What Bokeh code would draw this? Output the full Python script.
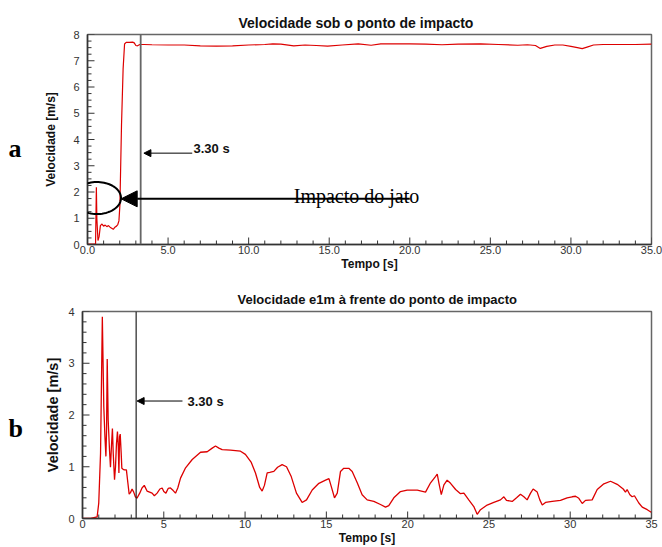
import numpy as np
from bokeh.plotting import figure
from bokeh.layouts import column, row
from bokeh.models import (Span, Arrow, NormalHead, Label, PrintfTickFormatter,
                          FixedTicker, PolyAnnotation, Range1d, Title)
from bokeh.embed import file_html
from bokeh.resources import INLINE

# ---------------- data ----------------
# (a) velocity under the impact point
t_top = [0.0, 0.5, 0.55, 0.58, 0.65, 0.72, 0.8, 0.9, 1.0, 1.1, 1.2, 1.3, 1.4, 1.5,
         1.6, 1.7, 1.8, 1.88, 1.95, 2.01, 2.11, 2.21, 2.3, 2.4, 2.6, 2.8, 2.9, 3.0,
         3.1, 3.25, 3.5, 4.0, 5.0, 6.0, 7.0, 8.0, 9.0, 10.0, 11.0, 11.5, 12.0, 12.8,
         13.5, 14.2, 14.9, 15.8, 16.8, 17.6, 18.2, 19.0, 20.0, 21.0, 22.0, 23.0,
         24.4, 25.5, 26.7, 27.3, 27.8, 28.1, 28.5, 29.0, 29.5, 30.0, 30.4, 30.7,
         31.0, 31.4, 32.0, 33.0, 34.0, 35.0]
v_top = [0.02, 0.02, 2.18, 1.0, 0.15, 0.3, 0.72, 0.78, 0.7, 0.74, 0.68, 0.72, 0.66, 0.62,
         0.58, 0.66, 0.7, 0.76, 0.9, 1.49, 4.53, 6.69, 7.64, 7.7, 7.7, 7.71, 7.68, 7.58,
         7.57, 7.62, 7.62, 7.61, 7.6, 7.6, 7.57, 7.56, 7.57, 7.6, 7.62, 7.64, 7.63, 7.57,
         7.6, 7.58, 7.56, 7.6, 7.64, 7.59, 7.64, 7.64, 7.64, 7.63, 7.61, 7.63,
         7.64, 7.62, 7.59, 7.61, 7.58, 7.47, 7.55, 7.6, 7.6, 7.55, 7.5, 7.46,
         7.52, 7.6, 7.62, 7.62, 7.62, 7.63]

# (b) velocity 1 m ahead of the impact point
t_bot = [0.0, 0.5, 0.9, 1.0, 1.11, 1.22, 1.31, 1.38, 1.44, 1.48, 1.52, 1.58, 1.66, 1.72,
         1.78, 1.84, 1.89, 1.97, 2.03, 2.09, 2.15, 2.2, 2.24, 2.28, 2.32, 2.38, 2.42,
         2.5, 2.58, 2.7, 2.79, 2.87, 2.95, 3.05, 3.15, 3.25, 3.35, 3.52, 3.66, 3.8,
         3.97, 4.13, 4.28, 4.42, 4.59, 4.76, 4.9, 5.0, 5.13, 5.27, 5.41, 5.58, 5.72,
         5.86, 6.03, 6.34, 6.75, 7.26, 7.67, 7.98, 8.18, 8.39, 8.59, 9.1, 9.72, 10.02,
         10.37, 10.64, 10.9, 11.05, 11.19, 11.36, 11.52, 11.77, 12.0, 12.28, 12.55,
         12.84, 13.16, 13.51, 13.78, 14.13, 14.54, 14.95, 15.16, 15.3, 15.5, 15.67,
         15.87, 16.07, 16.38, 16.59, 16.9, 17.2, 17.51, 17.92, 18.33, 18.64, 18.84,
         19.15, 19.56, 19.97, 20.59, 21.1, 21.41, 21.71, 21.82, 21.92, 22.07, 22.23,
         22.43, 22.64, 22.95, 23.25, 23.46, 23.76, 24.07, 24.28, 24.48, 24.89, 25.3,
         25.71, 25.92, 26.08, 26.43, 26.7, 26.94, 27.15, 27.35, 27.56, 27.72, 27.97,
         28.13, 28.28, 28.48, 28.89, 29.4, 29.81, 30.12, 30.33, 30.53, 30.74, 30.94,
         31.35, 31.66, 32.07, 32.48, 32.89, 33.26, 33.4, 33.5, 33.67, 33.81, 33.95,
         34.22, 34.43, 34.74, 34.98]
v_bot = [0.0, 0.0, 0.03, 0.3, 1.26, 3.9, 2.16, 1.58, 1.2, 1.71, 3.08, 1.9, 1.33, 0.99,
         1.39, 1.74, 1.26, 0.75, 1.0, 1.45, 1.68, 1.39, 0.88, 1.58, 1.63, 1.26, 0.97,
         0.95, 0.94, 0.94, 0.69, 0.47, 0.5, 0.57, 0.51, 0.42, 0.39, 0.49, 0.59, 0.64,
         0.53, 0.51, 0.49, 0.44, 0.49, 0.57, 0.59, 0.52, 0.49, 0.58, 0.59, 0.54, 0.49,
         0.59, 0.78, 0.98, 1.14, 1.28, 1.29, 1.36, 1.4, 1.36, 1.33, 1.32, 1.3, 1.24,
         1.09, 0.88, 0.6, 0.53, 0.64, 0.88, 0.89, 0.91, 0.99, 1.04, 1.0,
         0.81, 0.49, 0.31, 0.36, 0.55, 0.68, 0.74, 0.77, 0.62, 0.4, 0.49,
         0.91, 0.97, 0.97, 0.91, 0.69, 0.46, 0.36, 0.33, 0.27, 0.22, 0.25,
         0.4, 0.52, 0.55, 0.55, 0.51, 0.69, 0.81, 0.86, 0.69, 0.46, 0.65,
         0.74, 0.68, 0.56, 0.48, 0.49, 0.36, 0.23, 0.08, 0.17, 0.26, 0.31,
         0.36, 0.42, 0.35, 0.33, 0.4, 0.47, 0.42, 0.36, 0.49, 0.57, 0.51,
         0.36, 0.26, 0.31, 0.33, 0.35, 0.4, 0.42, 0.43, 0.39, 0.29, 0.35,
         0.36, 0.56, 0.67, 0.72, 0.66, 0.57, 0.51, 0.56, 0.46, 0.42, 0.44,
         0.3, 0.22, 0.17, 0.12]

x_major = [0, 5, 10, 15, 20, 25, 30, 35]
x_minor = [v for v in range(0, 36) if v % 5 != 0]
y_major_top = [0, 1, 2, 3, 4, 5, 6, 7, 8]
y_minor_top = [v / 4 for v in range(0, 33) if v % 4 != 0]
y_major_bot = [0, 1, 2, 3, 4]
y_minor_bot = [v / 5 for v in range(0, 21) if v % 5 != 0]

title_top = "Velocidade sob o ponto de impacto"
title_bot = "Velocidade e1m à frente do ponto de impacto"
marker_time = 3.30

FONT = "Liberation Sans"
SERIF = "Liberation Serif"
RED = "#dd0000"
TICK = "#333333"


def style(p, y_major, y_minor, xfmt, ylabel_size, ylab_standoff):
    p.xgrid.visible = False
    p.ygrid.visible = False
    p.outline_line_color = "#666666"
    p.outline_line_width = 1.5
    p.xaxis.ticker = FixedTicker(ticks=x_major)
    p.yaxis.ticker = FixedTicker(ticks=y_major)
    if xfmt:
        p.xaxis.formatter = PrintfTickFormatter(format=xfmt)
    for ax in (p.xaxis[0], p.yaxis[0]):
        ax.major_tick_in = 0
        ax.major_tick_out = 0
        ax.minor_tick_in = 0
        ax.minor_tick_out = 0
        ax.axis_line_color = TICK
        ax.axis_line_width = 1.5
        ax.major_label_text_font = FONT
        ax.major_label_text_font_size = "11px"
        ax.major_label_text_color = TICK
        ax.axis_label_text_font = FONT
        ax.axis_label_text_font_style = "bold"
        ax.axis_label_text_color = "#111111"
    p.xaxis.axis_label = "Tempo [s]"
    p.xaxis.axis_label_text_font_size = "12px"
    p.xaxis.major_label_standoff = 1
    p.xaxis.axis_label_standoff = 0
    p.yaxis.axis_label = "Velocidade [m/s]"
    p.yaxis.axis_label_text_font_size = ylabel_size
    p.yaxis.major_label_standoff = 8
    p.yaxis.axis_label_standoff = ylab_standoff
    # inward tick marks (half of each dash is clipped away by the frame)
    p.scatter(x_major, [0] * len(x_major), marker="dash", size=14, angle=np.pi / 2,
              line_color=TICK, line_width=1)
    p.scatter(x_minor, [0] * len(x_minor), marker="dash", size=8, angle=np.pi / 2,
              line_color=TICK, line_width=1)
    p.scatter([0] * len(y_major), y_major, marker="dash", size=14,
              line_color=TICK, line_width=1)
    p.scatter([0] * len(y_minor), y_minor, marker="dash", size=8,
              line_color=TICK, line_width=1)


def side_label(letter, height, baseline):
    f = figure(width=40, height=height, x_range=Range1d(0, 40), y_range=Range1d(height, 0),
               output_backend="svg", toolbar_location=None,
               x_axis_location=None, y_axis_location=None,
               min_border_left=0, min_border_right=0, min_border_top=0, min_border_bottom=0)
    f.outline_line_color = None
    f.xgrid.visible = False
    f.ygrid.visible = False
    f.add_layout(Label(x=8, y=baseline, text=letter, text_font=SERIF, text_font_style="bold",
                       text_font_size="26px", text_baseline="alphabetic", text_color="black"))
    return f


# ---------------- top figure ----------------
H1, H2 = 273, 274
p1 = figure(width=622, height=H1, x_range=Range1d(0, 35), y_range=Range1d(0, 8),
            output_backend="svg", toolbar_location=None,
            min_border_left=47, min_border_right=11, min_border_top=34, min_border_bottom=29)
p1.add_layout(Title(text=title_top, align="left", offset=151, standoff=8,
                    text_font=FONT, text_font_style="bold", text_font_size="14px",
                    text_color="#111111"), "above")
style(p1, y_major_top, y_minor_top, "%.1f", "12px", 12)
p1.line(t_top, v_top, line_color=RED, line_width=1.2)
p1.add_layout(Span(location=marker_time, dimension="height", line_color="#666666", line_width=1.8))
p1.add_layout(Arrow(end=NormalHead(size=7, fill_color="black", line_color="black"),
                    x_start=6.5, y_start=3.48, x_end=3.5, y_end=3.48,
                    line_color="black", line_width=1))
p1.add_layout(Label(x=6.58, y=3.65, text="3.30 s", text_font=FONT, text_font_style="bold",
                    text_font_size="13px", text_baseline="middle", text_color="#111111"))
p1.add_layout(Arrow(end=NormalHead(size=16, fill_color="black", line_color="black"),
                    x_start=20.0, y_start=1.74, x_end=2.09, y_end=1.74,
                    line_color="black", line_width=2))
p1.add_layout(Label(x=12.8, y=1.86, text="Impacto do jato", text_font=SERIF,
                    text_font_size="20px", text_baseline="alphabetic", text_color="black"))
ang = np.linspace(0, 2 * np.pi, 80)
p1.add_layout(PolyAnnotation(xs=list(0.59 + 1.49 * np.cos(ang)), ys=list(1.77 + 0.61 * np.sin(ang)),
                             fill_alpha=0, line_color="black", line_alpha=1.0, line_width=2))

# ---------------- bottom figure ----------------
p2 = figure(width=622, height=H2, x_range=Range1d(0, 35), y_range=Range1d(0, 4),
            output_backend="svg", toolbar_location=None,
            min_border_left=42, min_border_right=11, min_border_top=38, min_border_bottom=28)
p2.add_layout(Title(text=title_bot, align="left", offset=155, standoff=10,
                    text_font=FONT, text_font_style="bold", text_font_size="13px",
                    text_color="#111111"), "above")
style(p2, y_major_bot, y_minor_bot, None, "14.5px", 4)
p2.line(t_bot, v_bot, line_color=RED, line_width=1.3)
p2.add_layout(Span(location=marker_time, dimension="height", line_color="#222222", line_width=1.2))
p2.add_layout(Arrow(end=NormalHead(size=7, fill_color="black", line_color="black"),
                    x_start=6.15, y_start=2.27, x_end=3.36, y_end=2.27,
                    line_color="black", line_width=1))
p2.add_layout(Label(x=6.46, y=2.26, text="3.30 s", text_font=FONT, text_font_style="bold",
                    text_font_size="13px", text_baseline="middle", text_color="#111111"))

fa = side_label("a", H1, 148)
fb = side_label("b", H2, 428 - H1)

layout = column(row(fa, p1, spacing=0), row(fb, p2, spacing=0), spacing=0)
open("out.html", "w").write(file_html(layout, INLINE))
